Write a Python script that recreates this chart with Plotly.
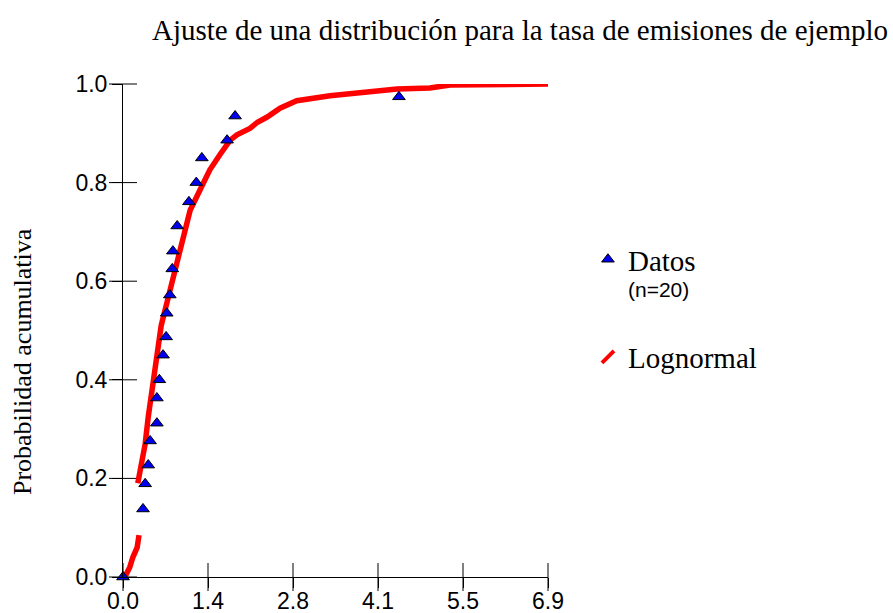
import plotly.graph_objects as go

# ---- data ----
data_x = [0.0, 0.325, 0.36, 0.41, 0.44, 0.55, 0.55, 0.59, 0.65, 0.70, 0.71,
          0.76, 0.80, 0.81, 0.88, 1.07, 1.19, 1.28, 1.69, 1.82, 4.48]
data_y = [0.0, 0.138, 0.189, 0.227, 0.276, 0.312, 0.363, 0.400, 0.450, 0.487,
          0.535, 0.572, 0.625, 0.661, 0.712, 0.761, 0.800, 0.850, 0.886, 0.935, 0.974]

# fitted lognormal curve (two drawn segments, gap marked by None)
fit_x = [0.03, 0.11, 0.16, 0.23, 0.26, None,
         0.24, 0.28, 0.32, 0.36, 0.41, 0.46, 0.51, 0.57, 0.62, 0.70, 0.76,
         0.85, 0.96, 1.09, 1.25, 1.41, 1.57, 1.74, 1.85, 1.90, 2.06, 2.19,
         2.34, 2.55, 2.82, 3.36, 3.90, 4.45, 4.98, 5.31, 6.90]
fit_y = [0.0, 0.02, 0.04, 0.06, 0.085, None,
         0.19, 0.217, 0.245, 0.27, 0.325, 0.37, 0.42, 0.47, 0.51, 0.55, 0.58,
         0.625, 0.684, 0.744, 0.785, 0.826, 0.856, 0.886, 0.897, 0.90, 0.91, 0.923,
         0.933, 0.951, 0.966, 0.976, 0.984, 0.99, 0.992, 0.998, 1.0]

x_tickvals = [0.0, 1.38, 2.76, 4.14, 5.52, 6.9]
x_ticktext = ["0.0", "1.4", "2.8", "4.1", "5.5", "6.9"]
y_tickvals = [0.0, 0.2, 0.4, 0.6, 0.8, 1.0]

title_text = "Ajuste de una distribución para la tasa de emisiones de ejemplo"
ytitle_text = "Probabilidad acumulativa"
legend_data = "Datos"
legend_n = "(n=20)"
legend_fit = "Lognormal"

SERIF = "Liberation Serif, Times New Roman, serif"
SANS = "Liberation Sans, Arial, sans-serif"

fig = go.Figure()

# crossing tick marks (through both sides of each axis), placed at the tick values
fig.add_trace(go.Scatter(
    x=x_tickvals, y=[0] * len(x_tickvals), mode="markers",
    marker=dict(symbol="line-ns", size=20, color="black",
                line=dict(color="black", width=1)),
    showlegend=False, hoverinfo="skip", cliponaxis=False,
))
fig.add_trace(go.Scatter(
    x=[0] * len(y_tickvals), y=y_tickvals, mode="markers",
    marker=dict(symbol="line-ew", size=20, color="black",
                line=dict(color="black", width=1)),
    showlegend=False, hoverinfo="skip", cliponaxis=False,
))

fig.add_trace(go.Scatter(
    x=fit_x, y=fit_y, mode="lines",
    line=dict(color="#FF0000", width=5.5),
    showlegend=False, connectgaps=False, cliponaxis=False,
))

fig.add_trace(go.Scatter(
    x=data_x, y=data_y, mode="markers",
    marker=dict(symbol="triangle-up", size=11, color="#0000EE",
                line=dict(color="black", width=1)),
    name=legend_data, legendgroup="a", cliponaxis=False,
))

fig.add_trace(go.Scatter(
    x=[None], y=[None], mode="markers",
    marker=dict(symbol="line-ne", size=12, color="#FF0000",
                line=dict(color="#FF0000", width=4)),
    name=legend_fit, legendgroup="b",
))

axis_common = dict(showgrid=False, zeroline=False, showline=True,
                   linecolor="black", linewidth=1, ticks="outside",
                   ticklen=10, tickwidth=1, tickcolor="black", automargin=False,
                   tickfont=dict(family=SANS, size=23, color="black"))

fig.update_layout(
    width=893, height=613,
    margin=dict(l=123, r=345, t=84, b=36, autoexpand=False),
    paper_bgcolor="white", plot_bgcolor="white",
    xaxis=dict(range=[0, 6.9], tickvals=x_tickvals, ticktext=x_ticktext,
               ticklabelstandoff=-7, **axis_common),
    yaxis=dict(range=[0, 1.0], tickvals=y_tickvals, tickformat=".1f", **axis_common),
    legend=dict(x=1.094, y=0.696, xanchor="left", yanchor="top",
                font=dict(family=SERIF, size=29, color="black"),
                tracegroupgap=57, valign="middle", bgcolor="rgba(0,0,0,0)"),
    annotations=[
        dict(text=title_text, xref="paper", yref="paper", x=0.934, y=1.1095,
             xanchor="center", yanchor="middle", showarrow=False,
             font=dict(family=SERIF, size=29, color="black")),
        dict(text=ytitle_text, xref="paper", yref="paper", x=-0.2376, y=0.436,
             xanchor="center", yanchor="middle", showarrow=False, textangle=-90,
             font=dict(family=SERIF, size=26, color="black")),
        dict(text=legend_n, xref="paper", yref="paper", x=1.1835, y=0.583,
             xanchor="left", yanchor="middle", showarrow=False,
             font=dict(family=SANS, size=21, color="black")),
    ],
)

fig.write_html("out.html", config={"displayModeBar": False},
               post_script="document.body.style.margin='0';")
